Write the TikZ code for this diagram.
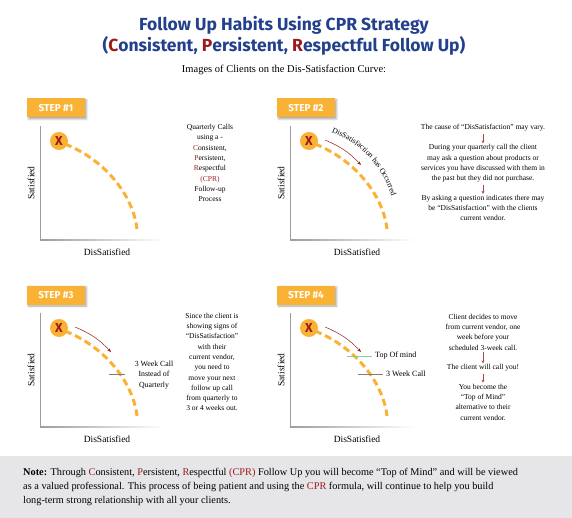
\documentclass[tikz,border=0pt]{standalone}
\usepackage{fontspec}
\setmainfont{Liberation Serif}
\newfontfamily\headfont{Fira Sans}
\usetikzlibrary{arrows.meta, positioning, shadows.blur, decorations.text}
\definecolor{cprBlue}{HTML}{22408C}
\definecolor{cprRed}{HTML}{9A1C1F}
\definecolor{cprOrange}{HTML}{F9B233}
\definecolor{cprGray}{HTML}{9C9C9C}
\definecolor{cprGreen}{HTML}{7FD1A0}
\definecolor{cprNote}{HTML}{E6E6E8}
\newcommand{\redl}[1]{\textcolor{cprRed}{#1}}
\tikzset{
  stepbox/.style={rectangle, fill=cprOrange, text=white, inner sep=0pt,
                  font=\headfont\bfseries\fontsize{10}{12}\selectfont,
                  minimum width=58pt, minimum height=19pt,
                  blur shadow={shadow xshift=1.5pt, shadow yshift=-1.5pt, shadow blur radius=2pt, shadow opacity=35}},
  xmark/.style={circle, fill=cprOrange, text=cprRed, minimum size=18pt, inner sep=0pt,
                font=\headfont\bfseries\fontsize{13}{13}\selectfont},
  dashcurve/.style={cprOrange, line width=3pt, dash pattern=on 7pt off 4pt},
  axisline/.style={cprGray, line width=1pt},
  axlabel/.style={font=\fontsize{9.5}{11}\selectfont, inner sep=0pt},
  infotext/.style={align=center, font=\fontsize{7.5}{10.3}\selectfont, inner sep=0pt},
  driftarrow/.style={-{Stealth[length=4pt, width=3pt]}, cprRed, line width=0.5pt},
  callarrow/.style={-{Stealth[length=3pt, width=3pt]}, cprRed!80, line width=1pt, shorten <=2pt, shorten >=1pt},
  markline/.style={line width=0.8pt},
}
\begin{document}
\begin{tikzpicture}[x=1pt, y=-1pt]
  \useasboundingbox (0,0) rectangle (572,518);
  % title
  \node[font=\headfont\bfseries\fontsize{17.5}{20}\selectfont, text=cprBlue] (title) at (284,25)
    {Follow Up Habits Using CPR Strategy};
  \node[font=\headfont\bfseries\fontsize{17.5}{20}\selectfont, text=cprBlue] (subtitle) at (284,46)
    {(\redl{C}onsistent, \redl{P}ersistent, \redl{R}espectful Follow Up)};
  \node[font=\fontsize{10.5}{12}\selectfont] (curvehead) at (284,70)
    {Images of Clients on the Dis-Satisfaction Curve:};

  % the four curves
  \foreach \n/\dx/\dy in {1/0/0, 2/250/0, 3/0/187, 4/250/187}{
    \begin{scope}[shift={(\dx,\dy)}]
      \node[stepbox] (step\n) at (56,108) {STEP \#\n};
      \draw[axisline] (40,126) -- (40,240);
      \shade[left color=cprGray, right color=white] (40,239.5) rectangle (165,240.5);
      \node[axlabel, rotate=90] (sat\n) at (31,183) {Satisfied};
      \node[axlabel] (dis\n) at (107,252) {DisSatisfied};
      \draw[dashcurve] (65,144) .. controls (105,160) and (133,195) .. (137,229);
      \node[xmark] (client\n) at (59,141) {X};
    \end{scope}
  }

  % step 1
  \node[infotext] (quarterly) at (210,163)
    {Quarterly Calls\\using a -\\\redl{C}onsistent,\\\redl{P}ersistent,\\\redl{R}espectful\\\redl{(CPR)}\\Follow-up\\Process};

  % step 2
  \coordinate (from2) at (325,140);
  \coordinate (to2) at (361,165);
  \draw[driftarrow] (from2) to[bend left=12] (to2);
  \path[decorate, decoration={text along path, text align=center,
        text={|\fontsize{7.8}{9}\selectfont|DisSatisfaction has Occurred}}]
    (322,129) .. controls (359,139) and (386,168) .. (394,206);
  \node[infotext] (cause) at (483,128) {The cause of ``DisSatisfaction'' may vary.};
  \node[infotext] (question) at (483,163.5)
    {During your quarterly call the client\\may ask a question about products or\\services you have discussed with them in\\the past but they did not purchase.};
  \node[infotext] (asking) at (483,208)
    {By asking a question indicates there may\\be ``DisSatisfaction'' with the clients\\current vendor.};
  \draw[callarrow] (cause) -- (question);
  \draw[callarrow] (question) -- (asking);

  % step 3
  \coordinate (from3) at (75,327);
  \coordinate (to3) at (111,352);
  \draw[driftarrow] (from3) to[bend left=12] (to3);
  \coordinate (week3a) at (109,374);
  \coordinate (week3b) at (125,374);
  \draw[markline, cprGray!80!black] (week3a) -- (week3b);
  \node[infotext, font=\fontsize{7.8}{10.5}\selectfont] (week3) at (154,375)
    {3 Week Call\\Instead of\\Quarterly};
  \node[infotext] (signs) at (212,362)
    {Since the client is\\showing signs of\\``DisSatisfaction''\\with their\\current vendor,\\you need to\\move your next\\follow up call\\from quarterly to\\3 or 4 weeks out.};

  % step 4
  \coordinate (from4) at (325,327);
  \coordinate (to4) at (361,352);
  \draw[driftarrow] (from4) to[bend left=12] (to4);
  \coordinate (mind4a) at (347,356);
  \coordinate (mind4b) at (372,356);
  \draw[markline, cprGreen] (mind4a) -- (mind4b);
  \node[infotext, anchor=west, font=\fontsize{8}{10}\selectfont] (topmind) at (375,356) {Top Of mind};
  \coordinate (week4a) at (358,374);
  \coordinate (week4b) at (383,374);
  \draw[markline, cprGray!80!black] (week4a) -- (week4b);
  \node[infotext, anchor=west, font=\fontsize{8}{10}\selectfont] (week4) at (386,374) {3 Week Call};
  \node[infotext] (decide) at (483,332)
    {Client decides to move\\from current vendor, one\\week before your\\scheduled 3-week call.};
  \node[infotext] (willcall) at (483,368) {The client will call you!};
  \node[infotext] (become) at (483,402)
    {You become the\\``Top of Mind''\\alternative to their\\current vendor.};
  \draw[callarrow] (decide) -- (willcall);
  \draw[callarrow] (willcall) -- (become);

  % note
  \fill[cprNote] (0,456) rectangle (572,518);
  \node[anchor=north west, align=left, inner sep=0pt, font=\fontsize{10.3}{14}\selectfont] (note) at (23,468.5)
    {\textbf{Note:} Through \redl{C}onsistent, \redl{P}ersistent, \redl{R}espectful \redl{(CPR)} Follow Up you will become ``Top of Mind'' and will be viewed\\
     as a valued professional. This process of being patient and using the \redl{CPR} formula, will continue to help you build\\
     long-term strong relationship with all your clients.};
\end{tikzpicture}
\end{document}
